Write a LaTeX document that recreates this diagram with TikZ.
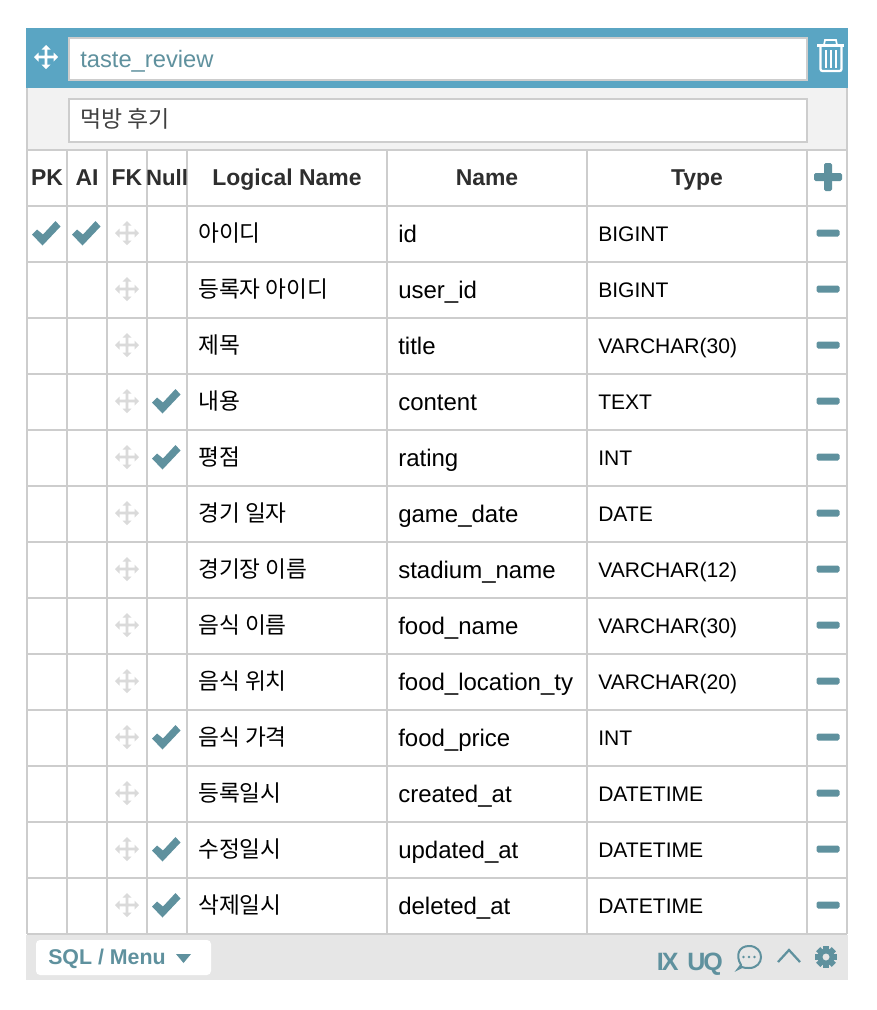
\documentclass[tikz,border=0pt]{standalone}
\usepackage{fontspec}
\setmainfont{Liberation Sans}
\newfontfamily\krfont{Noto Sans CJK KR}
\definecolor{headblue}{RGB}{90,165,195}
\definecolor{tealtext}{RGB}{95,145,158}
\definecolor{gridgray}{RGB}{205,205,205}
\definecolor{commentbg}{RGB}{242,242,242}
\definecolor{footbg}{RGB}{230,230,230}
\definecolor{movegray}{RGB}{218,218,218}
\tikzset{
  gridline/.style={draw=gridgray,line width=1.5pt},
  inputbox/.style={fill=white,draw=gridgray,line width=1.5pt},
  headcell/.style={anchor=base,inner sep=0.75pt,font=\fontsize{17.2}{20}\selectfont\bfseries,text=black!82},
  logicalcell/.style={anchor=base west,inner sep=0pt,font=\fontsize{17}{20}\krfont,text=black},
  namecell/.style={anchor=base west,inner sep=0pt,font=\fontsize{18}{20}\selectfont,text=black},
  typecell/.style={anchor=base west,inner sep=0pt,font=\fontsize{15.8}{20}\selectfont,text=black},
  moveicon/.pic={
    \path[pic actions,draw=none] (-1.3,-9) rectangle (1.3,9) (-9,-1.3) rectangle (9,1.3);
    \path[pic actions,draw=none] (0,-12) -- (4.5,-7.5) -- (-4.5,-7.5) -- cycle
      (0,12) -- (4.5,7.5) -- (-4.5,7.5) -- cycle
      (-12,0) -- (-7.5,4.5) -- (-7.5,-4.5) -- cycle
      (12,0) -- (7.5,4.5) -- (7.5,-4.5) -- cycle;
  },
  % pics do not take the picture's yscale, so y runs upward in here
  checkicon/.pic={
    \fill[tealtext] (-14,-1.5) -- (-9,3.5) -- (-3,-1.5) -- (9.5,12) -- (14.5,6.5) -- (-3.5,-12.5) -- cycle;
  },
  minusicon/.pic={
    \fill[tealtext,rounded corners=1.2pt] (-11.5,-3.5) rectangle (11.5,3.5);
  },
  plusicon/.pic={
    \fill[tealtext,rounded corners=1.2pt] (-14,-4) rectangle (14,4);
    \fill[tealtext,rounded corners=1.2pt] (-4,-14) rectangle (4,14);
  },
}
\begin{document}
\begin{tikzpicture}[x=0.75pt,y=0.75pt,yscale=-1,xscale=1]
  \useasboundingbox (0,0) rectangle (876,1010);

  % Header bar
  \fill[headblue] (26,28) rectangle (848,88);
  \draw[inputbox] (68.5,37.5) rectangle (807,79.5);
  \pic[fill=white] at (46,57) {moveicon};
  % Trash can
  \draw[white,line width=1.7pt] (817,45.5) -- (844,45.5);
  \draw[white,line width=1.3pt] (824,45) -- (825,40) -- (836,40) -- (837,45);
  \draw[white,line width=1.7pt,rounded corners=1.5pt] (820.5,47) -- (820.5,71) -- (841.5,71) -- (841.5,47);
  \draw[white,line width=1.4pt] (825.7,50) -- (825.7,68) (831,50) -- (831,68) (836.3,50) -- (836.3,68);

  % Comment row
  \fill[commentbg] (26,88) rectangle (848,150);
  \draw[inputbox] (68.5,98.5) rectangle (807,141.5);

  % Table body
  \fill[white] (27,150) rectangle (847,934);
  \foreach \ypos in {150,206,262,318,374,430,486,542,598,654,710,766,822,878,934}
    \draw[gridline] (27,\ypos) -- (847,\ypos);
  \foreach \xpos in {67,107,147,187,387,587,807}
    \draw[gridline] (\xpos,150) -- (\xpos,934);
  \draw[gridline] (27,88) -- (27,934);
  \draw[gridline] (847,88) -- (847,934);

  % Footer
  \fill[footbg] (26,935) rectangle (848,980);
  \fill[white,rounded corners=3pt] (36,940) rectangle (211,975);

  % Title and comment
  \node[anchor=base west,inner sep=0pt,font=\fontsize{17.8}{20}\selectfont,text=tealtext] (tablename) at (80,67) {taste\_review};
  \node[anchor=base west,inner sep=0pt,font=\fontsize{17.2}{20}\krfont,text=black!75] (tablecomment) at (80,127) {먹방 후기};

  % Column heads
  \node[headcell] (headpk) at (47,185) {PK};
  \node[headcell] (headai) at (87,185) {AI};
  \node[headcell] (headfk) at (127,185) {FK};
  \node[headcell,font=\fontsize{16.6}{20}\selectfont\bfseries] (headnull) at (167,185) {Null};
  \node[headcell] (headlogical) at (287,185) {Logical Name};
  \node[headcell] (headname) at (487,185) {Name};
  \node[headcell] (headtype) at (697,185) {Type};
  \pic at (828,177) {plusicon};

  % Rows: logical name, name, type
  \foreach \rownum/\logical/\colname/\coltype in {
    0/아이디/id/BIGINT,
    1/등록자 아이디/user\_id/BIGINT,
    2/제목/title/VARCHAR(30),
    3/내용/content/TEXT,
    4/평점/rating/INT,
    5/경기 일자/game\_date/DATE,
    6/경기장 이름/stadium\_name/VARCHAR(12),
    7/음식 이름/food\_name/VARCHAR(30),
    8/음식 위치/food\_location\_ty/VARCHAR(20),
    9/음식 가격/food\_price/INT,
    10/등록일시/created\_at/DATETIME,
    11/수정일시/updated\_at/DATETIME,
    12/삭제일시/deleted\_at/DATETIME}{
    \pgfmathsetmacro{\ytext}{242+56*\rownum}
    \pgfmathsetmacro{\yicon}{233+56*\rownum}
    \node[logicalcell] (logical\rownum) at (198,\ytext-1) {\logical};
    \node[namecell] (name\rownum) at (398,\ytext) {\colname};
    \node[typecell] (type\rownum) at (598,\ytext-1) {\coltype};
    \pic[fill=movegray] at (127,\yicon) {moveicon};
    \pic at (828,\yicon) {minusicon};
  }

  % Ticks
  \pic at (46,233) {checkicon};
  \pic at (86,233) {checkicon};
  \pic at (166,401) {checkicon};
  \pic at (166,457) {checkicon};
  \pic at (166,737) {checkicon};
  \pic at (166,849) {checkicon};
  \pic at (166,905) {checkicon};

  % Footer contents
  \node[anchor=base west,inner sep=0pt,font=\fontsize{16}{20}\selectfont\bfseries,text=tealtext] (sqlmenu) at (48,964) {SQL / Menu};
  \fill[tealtext] (176,954) -- (191,954) -- (183.5,963) -- cycle;
  \node[anchor=base west,inner sep=0pt,font=\fontsize{18.8}{20}\selectfont\bfseries,text=tealtext] (ixlabel) at (656.5,970) {I\kern-1.5ptX};
  \node[anchor=base west,inner sep=0pt,font=\fontsize{18.8}{20}\selectfont\bfseries,text=tealtext] (uqlabel) at (687,970) {U\kern-1.5ptQ};
  % Speech bubble
  \draw[tealtext,line width=1.5pt] (741,965) .. controls (735,955) and (739,946) .. (749,946) .. controls (765,946) and (765,968) .. (749,968) .. controls (746,968) and (744,968) .. (742,967) -- (738,969) -- cycle;
  \fill[tealtext] (743.5,957) circle [radius=1.4] (749,957) circle [radius=1.4] (754.5,957) circle [radius=1.4];
  % Chevron
  \draw[tealtext,line width=1.7pt] (778,962) -- (789,950) -- (800,962);
  % Gear
  \foreach \angle in {0,45,...,315}
    \fill[tealtext,rotate around={\angle:(826,957)}] (823,946) rectangle (829,952);
  \fill[tealtext,even odd rule] (826,957) circle [radius=8.5] (826,957) circle [radius=3.6];
\end{tikzpicture}
\end{document}
